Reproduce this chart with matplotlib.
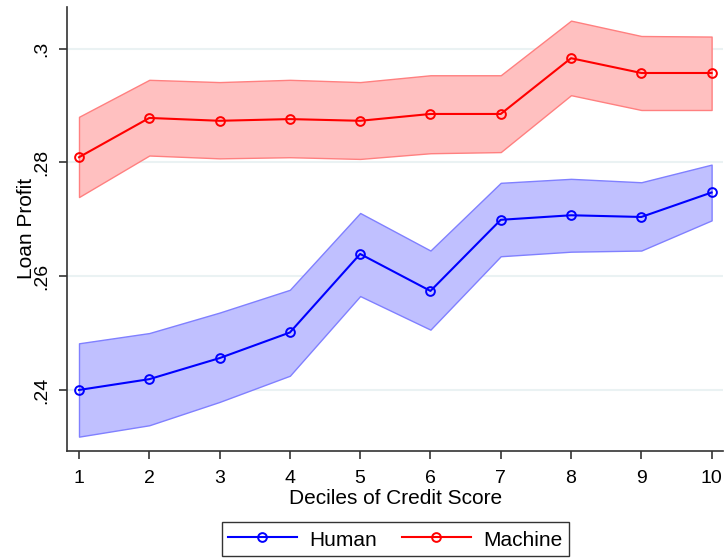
import numpy as np
import matplotlib
matplotlib.use("Agg")
import matplotlib.pyplot as plt
from matplotlib.ticker import FuncFormatter

plt.rcParams['font.family'] = ['Liberation Sans', 'DejaVu Sans']

# profit by credit-score decile, with confidence bands
deciles = np.arange(1, 11)
human = [0.2400, 0.2419, 0.2456, 0.2501, 0.2639, 0.2574, 0.2699, 0.2707, 0.2704, 0.2747]
human_hi = [0.2482, 0.2500, 0.2536, 0.2576, 0.2711, 0.2645, 0.2764, 0.2771, 0.2765, 0.2796]
human_lo = [0.2318, 0.2338, 0.2379, 0.2425, 0.2565, 0.2506, 0.2635, 0.2643, 0.2645, 0.2698]
machine = [0.2809, 0.2878, 0.2873, 0.2876, 0.2873, 0.2885, 0.2885, 0.2983, 0.2957, 0.2957]
machine_hi = [0.2880, 0.2945, 0.2941, 0.2945, 0.2941, 0.2953, 0.2953, 0.3049, 0.3022, 0.3021]
machine_lo = [0.2739, 0.2812, 0.2807, 0.2809, 0.2806, 0.2816, 0.2818, 0.2918, 0.2892, 0.2892]
yticks = [0.24, 0.26, 0.28, 0.30]

fig = plt.figure(figsize=(7.24, 5.58), dpi=100)
ax = fig.add_axes([0.093, 0.192, 0.906, 0.7955])

# shaded bands first, lines on top
ax.fill_between(deciles, machine_lo, machine_hi, facecolor='#ffc0c0', edgecolor='#ff8080', lw=1.0, zorder=2)
ax.fill_between(deciles, human_lo, human_hi, facecolor='#c0c0ff', edgecolor='#8080ff', lw=1.0, zorder=2)

ax.plot(deciles, human, color='#0000ff', lw=1.5, marker='o', ms=6.3, mfc='none', mew=1.4,
        label='Human', zorder=3)
ax.plot(deciles, machine, color='#ff0000', lw=1.5, marker='o', ms=6.3, mfc='none', mew=1.4,
        label='Machine', zorder=3)

ax.set_xlim(0.834, 10.166)
ax.set_ylim(0.2293, 0.3073)
ax.set_xticks(deciles)
ax.set_yticks(yticks)
ax.yaxis.set_major_formatter(FuncFormatter(lambda v, p: ('%g' % v).lstrip('0')))
ax.grid(axis='y', color='#eaf2f3', lw=1.5, zorder=0)
ax.set_axisbelow(True)

for s in ['top', 'right']:
    ax.spines[s].set_visible(False)
for s in ['left', 'bottom']:
    ax.spines[s].set_color('#333333')
    ax.spines[s].set_linewidth(1.2)

ax.tick_params(axis='both', length=6, width=1.2, color='#333333', labelsize=14)
ax.tick_params(axis='x', pad=8)
ax.tick_params(axis='y', pad=6)
for lab in ax.get_yticklabels():
    lab.set_rotation(90)
    lab.set_va('center')

ax.set_xlabel('Deciles of Credit Score', fontsize=15, labelpad=1)
ax.set_ylabel('Loan Profit', fontsize=15, labelpad=-2)

leg = fig.legend(loc='lower center', bbox_to_anchor=(0.5456, 0.0), ncol=2, fontsize=15,
                 frameon=True, fancybox=False, edgecolor='black', handlelength=3.3,
                 handleheight=1.2, handletextpad=0.6, columnspacing=1.2, borderpad=0.3,
                 borderaxespad=0.1)
leg.get_frame().set_linewidth(1.0)

fig.savefig('out.png', dpi=100)
